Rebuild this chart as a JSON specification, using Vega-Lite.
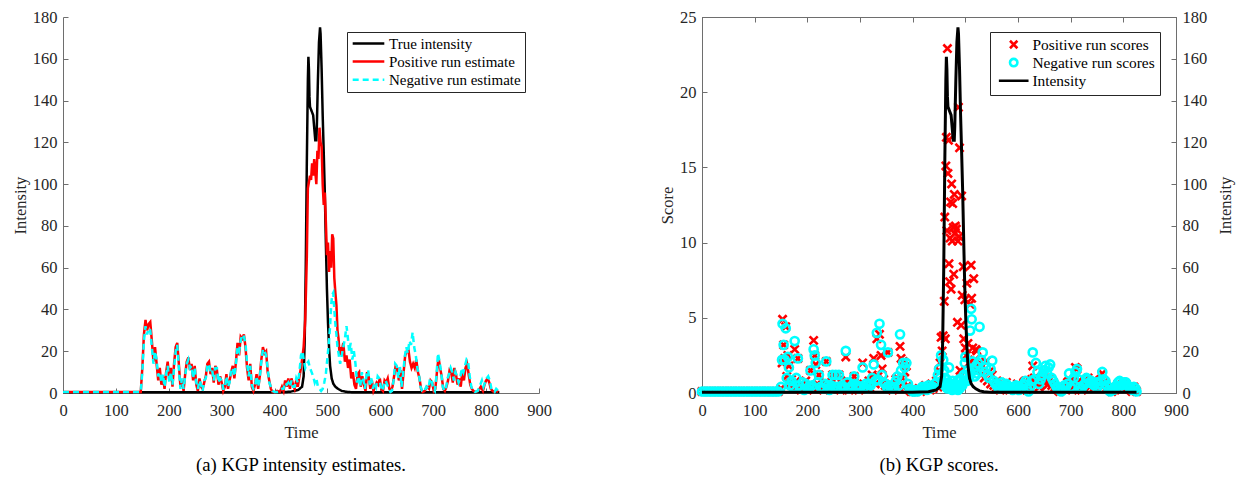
{
"$schema":"https://vega.github.io/schema/vega-lite/v6.json",
"background":"white",
"padding":{"left":12,"top":8,"right":2,"bottom":3},
"spacing":163,
"bounds":"flush",
"resolve":{"scale":{"color":"independent","shape":"independent","strokeDash":"independent"},"legend":{"color":"independent","shape":"independent","strokeDash":"independent"}},
"config":{
"font":"Liberation Serif",
"view":{"stroke":null},
"axis":{"domainColor":"#6e6e6e","tickColor":"#6e6e6e","tickSize":-5,"domainWidth":1,"tickWidth":1,"labelFont":"Liberation Serif","labelFontSize":16.5,"labelColor":"#262626","titleFont":"Liberation Serif","titleFontSize":16.5,"titleFontWeight":"normal","titleColor":"#262626","grid":false,"labelPadding":11,"labelFlush":false,"labelOverlap":false},
"axisX":{"labelPadding":14,"titlePadding":6},
"title":{"orient":"bottom","anchor":"middle","font":"Liberation Serif","fontSize":18.7,"fontWeight":"normal","color":"black","offset":15}
},
"datasets":{
"est":[
{"t":0,"v":0.3,"s":"A"},{"t":150,"v":0.3,"s":"A"},{"t":300,"v":0.3,"s":"A"},{"t":400,"v":0.3,"s":"A"},{"t":430,"v":0.6,"s":"A"},{"t":445,"v":1.5,"s":"A"},{"t":452,"v":3,"s":"A"},{"t":455,"v":8,"s":"A"},{"t":457,"v":25,"s":"A"},{"t":459,"v":60,"s":"A"},{"t":461,"v":110,"s":"A"},{"t":463,"v":150,"s":"A"},{"t":464,"v":161,"s":"A"},{"t":465,"v":155,"s":"A"},{"t":466,"v":142,"s":"A"},{"t":467,"v":137,"s":"A"},{"t":470,"v":135,"s":"A"},{"t":473,"v":133,"s":"A"},{"t":475,"v":127,"s":"A"},{"t":477,"v":121,"s":"A"},{"t":479,"v":121,"s":"A"},{"t":480,"v":128,"s":"A"},{"t":482,"v":150,"s":"A"},{"t":484,"v":168,"s":"A"},{"t":486,"v":175,"s":"A"},{"t":487,"v":172,"s":"A"},{"t":489,"v":155,"s":"A"},{"t":491,"v":133,"s":"A"},{"t":493,"v":115,"s":"A"},{"t":495,"v":96,"s":"A"},{"t":497,"v":72,"s":"A"},{"t":499,"v":50,"s":"A"},{"t":501,"v":34,"s":"A"},{"t":503,"v":22,"s":"A"},{"t":505,"v":13,"s":"A"},{"t":508,"v":7,"s":"A"},{"t":511,"v":4.5,"s":"A"},{"t":515,"v":3,"s":"A"},{"t":520,"v":2,"s":"A"},{"t":527,"v":1,"s":"A"},{"t":535,"v":0.6,"s":"A"},{"t":550,"v":0.3,"s":"A"},{"t":825,"v":0.3,"s":"A"},
{"t":0,"v":0.5,"s":"B"},{"t":145,"v":0.5,"s":"B"},{"t":147,"v":0.5,"s":"B"},{"t":150,"v":12,"s":"B"},{"t":153,"v":28,"s":"B"},{"t":156,"v":35,"s":"B"},{"t":159,"v":30,"s":"B"},{"t":162,"v":33,"s":"B"},{"t":165,"v":34,"s":"B"},{"t":168,"v":25,"s":"B"},{"t":171,"v":15,"s":"B"},{"t":174,"v":22,"s":"B"},{"t":177,"v":14,"s":"B"},{"t":180,"v":6,"s":"B"},{"t":183,"v":12,"s":"B"},{"t":186,"v":4,"s":"B"},{"t":189,"v":8,"s":"B"},{"t":192,"v":2,"s":"B"},{"t":195,"v":10,"s":"B"},{"t":198,"v":15,"s":"B"},{"t":201,"v":6,"s":"B"},{"t":204,"v":12,"s":"B"},{"t":207,"v":3,"s":"B"},{"t":210,"v":14,"s":"B"},{"t":213,"v":22,"s":"B"},{"t":216,"v":24,"s":"B"},{"t":219,"v":14,"s":"B"},{"t":222,"v":3,"s":"B"},{"t":225,"v":6,"s":"B"},{"t":228,"v":1,"s":"B"},{"t":231,"v":9,"s":"B"},{"t":234,"v":15,"s":"B"},{"t":237,"v":17,"s":"B"},{"t":240,"v":11,"s":"B"},{"t":243,"v":14,"s":"B"},{"t":246,"v":6,"s":"B"},{"t":249,"v":13,"s":"B"},{"t":252,"v":4,"s":"B"},{"t":255,"v":1,"s":"B"},{"t":258,"v":7,"s":"B"},{"t":261,"v":3,"s":"B"},{"t":264,"v":2,"s":"B"},{"t":267,"v":5,"s":"B"},{"t":270,"v":8,"s":"B"},{"t":273,"v":14,"s":"B"},{"t":276,"v":15,"s":"B"},{"t":279,"v":9,"s":"B"},{"t":282,"v":12,"s":"B"},{"t":285,"v":5,"s":"B"},{"t":288,"v":13,"s":"B"},{"t":291,"v":11,"s":"B"},{"t":294,"v":4,"s":"B"},{"t":297,"v":8,"s":"B"},{"t":300,"v":5,"s":"B"},{"t":303,"v":1,"s":"B"},{"t":306,"v":3,"s":"B"},{"t":309,"v":9,"s":"B"},{"t":312,"v":2,"s":"B"},{"t":315,"v":6,"s":"B"},{"t":318,"v":10,"s":"B"},{"t":321,"v":13,"s":"B"},{"t":324,"v":7,"s":"B"},{"t":327,"v":15,"s":"B"},{"t":330,"v":24,"s":"B"},{"t":333,"v":18,"s":"B"},{"t":336,"v":27,"s":"B"},{"t":339,"v":26,"s":"B"},{"t":342,"v":28,"s":"B"},{"t":345,"v":22,"s":"B"},{"t":348,"v":12,"s":"B"},{"t":351,"v":6,"s":"B"},{"t":354,"v":14,"s":"B"},{"t":357,"v":3,"s":"B"},{"t":360,"v":1,"s":"B"},{"t":363,"v":4,"s":"B"},{"t":366,"v":9,"s":"B"},{"t":369,"v":2,"s":"B"},{"t":372,"v":8,"s":"B"},{"t":375,"v":16,"s":"B"},{"t":378,"v":22,"s":"B"},{"t":381,"v":19,"s":"B"},{"t":384,"v":20,"s":"B"},{"t":387,"v":10,"s":"B"},{"t":390,"v":6,"s":"B"},{"t":393,"v":2,"s":"B"},{"t":396,"v":0.5,"s":"B"},{"t":400,"v":0.3,"s":"B"},{"t":405,"v":1,"s":"B"},{"t":410,"v":0.5,"s":"B"},{"t":414,"v":3,"s":"B"},{"t":417,"v":1,"s":"B"},{"t":420,"v":6,"s":"B"},{"t":423,"v":3,"s":"B"},{"t":426,"v":7,"s":"B"},{"t":429,"v":2,"s":"B"},{"t":432,"v":7,"s":"B"},{"t":435,"v":4,"s":"B"},{"t":438,"v":2,"s":"B"},{"t":441,"v":6,"s":"B"},{"t":444,"v":3,"s":"B"},{"t":447,"v":8,"s":"B"},{"t":450,"v":12,"s":"B"},{"t":453,"v":18,"s":"B"},{"t":455,"v":22,"s":"B"},{"t":458,"v":35,"s":"B"},{"t":461,"v":65,"s":"B"},{"t":463,"v":98,"s":"B"},{"t":465,"v":101,"s":"B"},{"t":467,"v":104,"s":"B"},{"t":469,"v":102,"s":"B"},{"t":471,"v":110,"s":"B"},{"t":473,"v":104,"s":"B"},{"t":475,"v":112,"s":"B"},{"t":477,"v":106,"s":"B"},{"t":479,"v":100,"s":"B"},{"t":481,"v":116,"s":"B"},{"t":483,"v":112,"s":"B"},{"t":485,"v":127,"s":"B"},{"t":487,"v":120,"s":"B"},{"t":489,"v":118,"s":"B"},{"t":491,"v":100,"s":"B"},{"t":493,"v":90,"s":"B"},{"t":495,"v":96,"s":"B"},{"t":497,"v":82,"s":"B"},{"t":499,"v":66,"s":"B"},{"t":501,"v":72,"s":"B"},{"t":503,"v":58,"s":"B"},{"t":505,"v":68,"s":"B"},{"t":507,"v":60,"s":"B"},{"t":509,"v":76,"s":"B"},{"t":511,"v":74,"s":"B"},{"t":513,"v":55,"s":"B"},{"t":515,"v":48,"s":"B"},{"t":517,"v":42,"s":"B"},{"t":519,"v":30,"s":"B"},{"t":521,"v":26,"s":"B"},{"t":523,"v":18,"s":"B"},{"t":525,"v":22,"s":"B"},{"t":527,"v":20,"s":"B"},{"t":530,"v":24,"s":"B"},{"t":533,"v":15,"s":"B"},{"t":536,"v":18,"s":"B"},{"t":539,"v":12,"s":"B"},{"t":542,"v":16,"s":"B"},{"t":545,"v":7,"s":"B"},{"t":548,"v":10,"s":"B"},{"t":551,"v":4,"s":"B"},{"t":554,"v":2,"s":"B"},{"t":557,"v":9,"s":"B"},{"t":560,"v":10,"s":"B"},{"t":563,"v":3,"s":"B"},{"t":566,"v":8,"s":"B"},{"t":569,"v":4,"s":"B"},{"t":572,"v":1,"s":"B"},{"t":575,"v":10,"s":"B"},{"t":578,"v":8,"s":"B"},{"t":581,"v":2,"s":"B"},{"t":584,"v":6,"s":"B"},{"t":587,"v":1,"s":"B"},{"t":590,"v":3,"s":"B"},{"t":593,"v":5,"s":"B"},{"t":596,"v":4,"s":"B"},{"t":599,"v":7,"s":"B"},{"t":602,"v":2,"s":"B"},{"t":605,"v":1,"s":"B"},{"t":608,"v":6,"s":"B"},{"t":611,"v":5,"s":"B"},{"t":614,"v":7,"s":"B"},{"t":617,"v":2,"s":"B"},{"t":620,"v":1,"s":"B"},{"t":623,"v":3,"s":"B"},{"t":626,"v":8,"s":"B"},{"t":629,"v":13,"s":"B"},{"t":632,"v":12,"s":"B"},{"t":635,"v":6,"s":"B"},{"t":638,"v":11,"s":"B"},{"t":641,"v":2,"s":"B"},{"t":644,"v":10,"s":"B"},{"t":647,"v":18,"s":"B"},{"t":650,"v":20,"s":"B"},{"t":653,"v":21,"s":"B"},{"t":656,"v":15,"s":"B"},{"t":659,"v":12,"s":"B"},{"t":662,"v":14,"s":"B"},{"t":665,"v":12,"s":"B"},{"t":668,"v":16,"s":"B"},{"t":671,"v":10,"s":"B"},{"t":674,"v":7,"s":"B"},{"t":677,"v":2,"s":"B"},{"t":680,"v":0.5,"s":"B"},{"t":684,"v":1,"s":"B"},{"t":688,"v":3,"s":"B"},{"t":692,"v":2,"s":"B"},{"t":695,"v":6,"s":"B"},{"t":698,"v":5,"s":"B"},{"t":701,"v":1,"s":"B"},{"t":704,"v":2,"s":"B"},{"t":707,"v":10,"s":"B"},{"t":710,"v":17,"s":"B"},{"t":713,"v":12,"s":"B"},{"t":716,"v":8,"s":"B"},{"t":719,"v":2,"s":"B"},{"t":722,"v":1,"s":"B"},{"t":725,"v":3,"s":"B"},{"t":728,"v":6,"s":"B"},{"t":731,"v":11,"s":"B"},{"t":734,"v":10,"s":"B"},{"t":737,"v":5,"s":"B"},{"t":740,"v":12,"s":"B"},{"t":743,"v":9,"s":"B"},{"t":746,"v":4,"s":"B"},{"t":749,"v":7,"s":"B"},{"t":752,"v":3,"s":"B"},{"t":755,"v":10,"s":"B"},{"t":758,"v":6,"s":"B"},{"t":761,"v":12,"s":"B"},{"t":764,"v":14,"s":"B"},{"t":767,"v":9,"s":"B"},{"t":770,"v":4,"s":"B"},{"t":773,"v":2,"s":"B"},{"t":776,"v":1,"s":"B"},{"t":780,"v":0.5,"s":"B"},{"t":785,"v":1,"s":"B"},{"t":790,"v":3,"s":"B"},{"t":794,"v":1,"s":"B"},{"t":797,"v":4,"s":"B"},{"t":800,"v":6,"s":"B"},{"t":803,"v":7,"s":"B"},{"t":806,"v":5,"s":"B"},{"t":809,"v":2,"s":"B"},{"t":812,"v":1,"s":"B"},{"t":815,"v":0.5,"s":"B"},{"t":819,"v":1,"s":"B"},{"t":823,"v":0.5,"s":"B"},
{"t":0,"v":0.5,"s":"C"},{"t":145,"v":0.5,"s":"C"},{"t":147,"v":0.5,"s":"C"},{"t":150,"v":10,"s":"C"},{"t":153,"v":25,"s":"C"},{"t":156,"v":32,"s":"C"},{"t":159,"v":28,"s":"C"},{"t":162,"v":31,"s":"C"},{"t":165,"v":30,"s":"C"},{"t":168,"v":22,"s":"C"},{"t":171,"v":14,"s":"C"},{"t":174,"v":20,"s":"C"},{"t":177,"v":16,"s":"C"},{"t":180,"v":8,"s":"C"},{"t":183,"v":10,"s":"C"},{"t":186,"v":5,"s":"C"},{"t":189,"v":9,"s":"C"},{"t":192,"v":3,"s":"C"},{"t":195,"v":9,"s":"C"},{"t":198,"v":13,"s":"C"},{"t":201,"v":5,"s":"C"},{"t":204,"v":10,"s":"C"},{"t":207,"v":4,"s":"C"},{"t":210,"v":12,"s":"C"},{"t":213,"v":20,"s":"C"},{"t":216,"v":23,"s":"C"},{"t":219,"v":12,"s":"C"},{"t":222,"v":2,"s":"C"},{"t":225,"v":7,"s":"C"},{"t":228,"v":2,"s":"C"},{"t":231,"v":8,"s":"C"},{"t":234,"v":14,"s":"C"},{"t":237,"v":16,"s":"C"},{"t":240,"v":12,"s":"C"},{"t":243,"v":13,"s":"C"},{"t":246,"v":7,"s":"C"},{"t":249,"v":12,"s":"C"},{"t":252,"v":5,"s":"C"},{"t":255,"v":2,"s":"C"},{"t":258,"v":6,"s":"C"},{"t":261,"v":4,"s":"C"},{"t":264,"v":1,"s":"C"},{"t":267,"v":6,"s":"C"},{"t":270,"v":7,"s":"C"},{"t":273,"v":13,"s":"C"},{"t":276,"v":14,"s":"C"},{"t":279,"v":10,"s":"C"},{"t":282,"v":11,"s":"C"},{"t":285,"v":6,"s":"C"},{"t":288,"v":12,"s":"C"},{"t":291,"v":12,"s":"C"},{"t":294,"v":5,"s":"C"},{"t":297,"v":7,"s":"C"},{"t":300,"v":6,"s":"C"},{"t":303,"v":2,"s":"C"},{"t":306,"v":2,"s":"C"},{"t":309,"v":8,"s":"C"},{"t":312,"v":3,"s":"C"},{"t":315,"v":5,"s":"C"},{"t":318,"v":11,"s":"C"},{"t":321,"v":12,"s":"C"},{"t":324,"v":8,"s":"C"},{"t":327,"v":14,"s":"C"},{"t":330,"v":22,"s":"C"},{"t":333,"v":20,"s":"C"},{"t":336,"v":25,"s":"C"},{"t":339,"v":28,"s":"C"},{"t":342,"v":27,"s":"C"},{"t":345,"v":24,"s":"C"},{"t":348,"v":14,"s":"C"},{"t":351,"v":8,"s":"C"},{"t":354,"v":13,"s":"C"},{"t":357,"v":4,"s":"C"},{"t":360,"v":2,"s":"C"},{"t":363,"v":3,"s":"C"},{"t":366,"v":8,"s":"C"},{"t":369,"v":3,"s":"C"},{"t":372,"v":7,"s":"C"},{"t":375,"v":15,"s":"C"},{"t":378,"v":21,"s":"C"},{"t":381,"v":20,"s":"C"},{"t":384,"v":18,"s":"C"},{"t":387,"v":12,"s":"C"},{"t":390,"v":5,"s":"C"},{"t":393,"v":3,"s":"C"},{"t":396,"v":1,"s":"C"},{"t":400,"v":0.5,"s":"C"},{"t":405,"v":0.5,"s":"C"},{"t":410,"v":1,"s":"C"},{"t":414,"v":2,"s":"C"},{"t":417,"v":2,"s":"C"},{"t":420,"v":5,"s":"C"},{"t":423,"v":4,"s":"C"},{"t":426,"v":5,"s":"C"},{"t":429,"v":3,"s":"C"},{"t":432,"v":6,"s":"C"},{"t":435,"v":3,"s":"C"},{"t":438,"v":3,"s":"C"},{"t":441,"v":7,"s":"C"},{"t":444,"v":5,"s":"C"},{"t":447,"v":10,"s":"C"},{"t":450,"v":18,"s":"C"},{"t":453,"v":20,"s":"C"},{"t":455,"v":16,"s":"C"},{"t":458,"v":12,"s":"C"},{"t":461,"v":14,"s":"C"},{"t":464,"v":15,"s":"C"},{"t":467,"v":12,"s":"C"},{"t":470,"v":10,"s":"C"},{"t":473,"v":8,"s":"C"},{"t":476,"v":5,"s":"C"},{"t":479,"v":7,"s":"C"},{"t":482,"v":3,"s":"C"},{"t":485,"v":2,"s":"C"},{"t":488,"v":1,"s":"C"},{"t":491,"v":2,"s":"C"},{"t":494,"v":5,"s":"C"},{"t":497,"v":9,"s":"C"},{"t":500,"v":17,"s":"C"},{"t":503,"v":25,"s":"C"},{"t":505,"v":32,"s":"C"},{"t":507,"v":42,"s":"C"},{"t":509,"v":47,"s":"C"},{"t":511,"v":48,"s":"C"},{"t":513,"v":40,"s":"C"},{"t":515,"v":33,"s":"C"},{"t":517,"v":28,"s":"C"},{"t":519,"v":22,"s":"C"},{"t":521,"v":19,"s":"C"},{"t":524,"v":14,"s":"C"},{"t":527,"v":18,"s":"C"},{"t":530,"v":22,"s":"C"},{"t":533,"v":26,"s":"C"},{"t":536,"v":32,"s":"C"},{"t":538,"v":28,"s":"C"},{"t":541,"v":20,"s":"C"},{"t":544,"v":24,"s":"C"},{"t":547,"v":16,"s":"C"},{"t":550,"v":20,"s":"C"},{"t":553,"v":14,"s":"C"},{"t":556,"v":5,"s":"C"},{"t":559,"v":8,"s":"C"},{"t":562,"v":3,"s":"C"},{"t":565,"v":10,"s":"C"},{"t":568,"v":6,"s":"C"},{"t":571,"v":2,"s":"C"},{"t":574,"v":9,"s":"C"},{"t":577,"v":11,"s":"C"},{"t":580,"v":4,"s":"C"},{"t":583,"v":7,"s":"C"},{"t":586,"v":2,"s":"C"},{"t":589,"v":5,"s":"C"},{"t":592,"v":3,"s":"C"},{"t":595,"v":8,"s":"C"},{"t":598,"v":7,"s":"C"},{"t":601,"v":3,"s":"C"},{"t":604,"v":1,"s":"C"},{"t":607,"v":4,"s":"C"},{"t":610,"v":6,"s":"C"},{"t":613,"v":4,"s":"C"},{"t":616,"v":2,"s":"C"},{"t":619,"v":0.5,"s":"C"},{"t":622,"v":1,"s":"C"},{"t":625,"v":6,"s":"C"},{"t":628,"v":14,"s":"C"},{"t":631,"v":13,"s":"C"},{"t":634,"v":7,"s":"C"},{"t":637,"v":13,"s":"C"},{"t":640,"v":3,"s":"C"},{"t":643,"v":9,"s":"C"},{"t":646,"v":17,"s":"C"},{"t":649,"v":22,"s":"C"},{"t":652,"v":19,"s":"C"},{"t":655,"v":25,"s":"C"},{"t":658,"v":23,"s":"C"},{"t":661,"v":29,"s":"C"},{"t":664,"v":22,"s":"C"},{"t":667,"v":18,"s":"C"},{"t":670,"v":12,"s":"C"},{"t":673,"v":9,"s":"C"},{"t":676,"v":3,"s":"C"},{"t":679,"v":1,"s":"C"},{"t":683,"v":0.5,"s":"C"},{"t":687,"v":3,"s":"C"},{"t":691,"v":2,"s":"C"},{"t":694,"v":7,"s":"C"},{"t":697,"v":6,"s":"C"},{"t":700,"v":2,"s":"C"},{"t":703,"v":1,"s":"C"},{"t":706,"v":8,"s":"C"},{"t":709,"v":19,"s":"C"},{"t":712,"v":15,"s":"C"},{"t":715,"v":10,"s":"C"},{"t":718,"v":3,"s":"C"},{"t":721,"v":1,"s":"C"},{"t":724,"v":2,"s":"C"},{"t":727,"v":7,"s":"C"},{"t":730,"v":9,"s":"C"},{"t":733,"v":12,"s":"C"},{"t":736,"v":10,"s":"C"},{"t":739,"v":6,"s":"C"},{"t":742,"v":10,"s":"C"},{"t":745,"v":8,"s":"C"},{"t":748,"v":5,"s":"C"},{"t":751,"v":7,"s":"C"},{"t":754,"v":12,"s":"C"},{"t":757,"v":10,"s":"C"},{"t":760,"v":13,"s":"C"},{"t":763,"v":16,"s":"C"},{"t":766,"v":15,"s":"C"},{"t":769,"v":8,"s":"C"},{"t":772,"v":3,"s":"C"},{"t":775,"v":1,"s":"C"},{"t":779,"v":0.5,"s":"C"},{"t":784,"v":1,"s":"C"},{"t":789,"v":4,"s":"C"},{"t":792,"v":6,"s":"C"},{"t":795,"v":3,"s":"C"},{"t":798,"v":5,"s":"C"},{"t":801,"v":7,"s":"C"},{"t":804,"v":8,"s":"C"},{"t":807,"v":6,"s":"C"},{"t":810,"v":2,"s":"C"},{"t":813,"v":1,"s":"C"},{"t":816,"v":0.5,"s":"C"},{"t":819,"v":2,"s":"C"},{"t":823,"v":1,"s":"C"}
],
"scores":[
{"t":0,"v":0.1,"s":"A"},{"t":5,"v":0.1,"s":"A"},{"t":10,"v":0.1,"s":"A"},{"t":15,"v":0.1,"s":"A"},{"t":20,"v":0.1,"s":"A"},{"t":25,"v":0.1,"s":"A"},{"t":30,"v":0.1,"s":"A"},{"t":35,"v":0.1,"s":"A"},{"t":40,"v":0.1,"s":"A"},{"t":45,"v":0.1,"s":"A"},{"t":50,"v":0.1,"s":"A"},{"t":55,"v":0.1,"s":"A"},{"t":60,"v":0.1,"s":"A"},{"t":65,"v":0.1,"s":"A"},{"t":70,"v":0.1,"s":"A"},{"t":75,"v":0.1,"s":"A"},{"t":80,"v":0.1,"s":"A"},{"t":85,"v":0.1,"s":"A"},{"t":90,"v":0.1,"s":"A"},{"t":95,"v":0.1,"s":"A"},{"t":100,"v":0.1,"s":"A"},{"t":105,"v":0.1,"s":"A"},{"t":110,"v":0.1,"s":"A"},{"t":115,"v":0.1,"s":"A"},{"t":120,"v":0.1,"s":"A"},{"t":125,"v":0.1,"s":"A"},{"t":130,"v":0.1,"s":"A"},{"t":135,"v":0.1,"s":"A"},{"t":140,"v":0.1,"s":"A"},{"t":145,"v":0.1,"s":"A"},
{"t":150,"v":0.3,"s":"A"},{"t":152,"v":2.0,"s":"A"},{"t":153,"v":4.9,"s":"A"},{"t":155,"v":3.2,"s":"A"},{"t":157,"v":2.3,"s":"A"},{"t":159,"v":4.4,"s":"A"},{"t":161,"v":1.1,"s":"A"},{"t":163,"v":2.5,"s":"A"},{"t":165,"v":1.8,"s":"A"},{"t":167,"v":0.6,"s":"A"},{"t":170,"v":0.9,"s":"A"},{"t":173,"v":0.3,"s":"A"},{"t":176,"v":2.9,"s":"A"},{"t":179,"v":0.8,"s":"A"},{"t":182,"v":2.3,"s":"A"},{"t":185,"v":0.4,"s":"A"},{"t":188,"v":0.2,"s":"A"},{"t":191,"v":0.6,"s":"A"},{"t":194,"v":0.3,"s":"A"},{"t":197,"v":0.8,"s":"A"},{"t":200,"v":0.2,"s":"A"},{"t":203,"v":0.5,"s":"A"},{"t":206,"v":1.5,"s":"A"},{"t":209,"v":0.4,"s":"A"},{"t":212,"v":3.5,"s":"A"},{"t":214,"v":2.5,"s":"A"},{"t":216,"v":1.9,"s":"A"},{"t":219,"v":0.6,"s":"A"},{"t":222,"v":1.2,"s":"A"},{"t":225,"v":0.3,"s":"A"},{"t":228,"v":0.5,"s":"A"},{"t":231,"v":0.2,"s":"A"},{"t":234,"v":0.7,"s":"A"},{"t":236,"v":2.1,"s":"A"},{"t":239,"v":0.4,"s":"A"},{"t":242,"v":0.3,"s":"A"},{"t":245,"v":0.6,"s":"A"},{"t":248,"v":1.2,"s":"A"},{"t":251,"v":0.3,"s":"A"},{"t":254,"v":1.1,"s":"A"},{"t":257,"v":0.5,"s":"A"},{"t":260,"v":1.2,"s":"A"},{"t":263,"v":0.2,"s":"A"},{"t":266,"v":0.6,"s":"A"},{"t":269,"v":0.3,"s":"A"},{"t":273,"v":2.4,"s":"A"},{"t":276,"v":0.8,"s":"A"},{"t":279,"v":0.2,"s":"A"},{"t":282,"v":0.5,"s":"A"},{"t":285,"v":0.4,"s":"A"},{"t":289,"v":1.1,"s":"A"},{"t":292,"v":0.3,"s":"A"},{"t":295,"v":0.6,"s":"A"},{"t":298,"v":0.2,"s":"A"},{"t":301,"v":0.4,"s":"A"},{"t":305,"v":2.0,"s":"A"},{"t":308,"v":0.3,"s":"A"},{"t":311,"v":0.5,"s":"A"},{"t":314,"v":0.4,"s":"A"},{"t":317,"v":0.8,"s":"A"},{"t":320,"v":0.3,"s":"A"},{"t":323,"v":1.2,"s":"A"},{"t":326,"v":2.3,"s":"A"},{"t":329,"v":0.6,"s":"A"},{"t":332,"v":3.6,"s":"A"},{"t":334,"v":1.1,"s":"A"},{"t":337,"v":3.9,"s":"A"},{"t":340,"v":2.5,"s":"A"},{"t":342,"v":1.6,"s":"A"},{"t":345,"v":0.9,"s":"A"},{"t":348,"v":0.5,"s":"A"},{"t":351,"v":0.3,"s":"A"},{"t":353,"v":2.7,"s":"A"},{"t":356,"v":0.4,"s":"A"},{"t":359,"v":0.6,"s":"A"},{"t":362,"v":0.2,"s":"A"},{"t":365,"v":0.5,"s":"A"},{"t":368,"v":0.9,"s":"A"},{"t":371,"v":1.0,"s":"A"},{"t":374,"v":0.4,"s":"A"},{"t":376,"v":3.1,"s":"A"},{"t":378,"v":2.3,"s":"A"},{"t":380,"v":1.0,"s":"A"},{"t":382,"v":2.1,"s":"A"},{"t":385,"v":1.4,"s":"A"},{"t":388,"v":1.8,"s":"A"},{"t":391,"v":0.5,"s":"A"},{"t":394,"v":0.2,"s":"A"},{"t":397,"v":0.1,"s":"A"},{"t":400,"v":0.1,"s":"A"},{"t":403,"v":0.2,"s":"A"},{"t":406,"v":0.1,"s":"A"},{"t":409,"v":0.2,"s":"A"},{"t":412,"v":0.3,"s":"A"},{"t":415,"v":0.1,"s":"A"},{"t":418,"v":0.3,"s":"A"},{"t":421,"v":0.2,"s":"A"},{"t":424,"v":0.5,"s":"A"},{"t":427,"v":0.3,"s":"A"},{"t":430,"v":0.4,"s":"A"},{"t":433,"v":0.2,"s":"A"},{"t":436,"v":0.6,"s":"A"},{"t":439,"v":0.3,"s":"A"},{"t":442,"v":0.5,"s":"A"},{"t":445,"v":0.8,"s":"A"},{"t":448,"v":0.4,"s":"A"},{"t":450,"v":1.5,"s":"A"},{"t":452,"v":2.0,"s":"A"},{"t":454,"v":3.7,"s":"A"},{"t":456,"v":2.8,"s":"A"},{"t":458,"v":3.8,"s":"A"},{"t":460,"v":6.1,"s":"A"},{"t":461,"v":11.7,"s":"A"},{"t":462,"v":3.6,"s":"A"},{"t":463,"v":15.1,"s":"A"},{"t":464,"v":17.0,"s":"A"},{"t":465,"v":10.8,"s":"A"},{"t":466,"v":22.9,"s":"A"},{"t":467,"v":14.6,"s":"A"},{"t":468,"v":16.8,"s":"A"},{"t":469,"v":8.6,"s":"A"},{"t":470,"v":7.4,"s":"A"},{"t":471,"v":10.3,"s":"A"},{"t":472,"v":12.7,"s":"A"},{"t":473,"v":6.9,"s":"A"},{"t":474,"v":13.9,"s":"A"},{"t":475,"v":10.1,"s":"A"},{"t":476,"v":12.6,"s":"A"},{"t":477,"v":11.0,"s":"A"},{"t":478,"v":7.9,"s":"A"},{"t":479,"v":13.2,"s":"A"},{"t":480,"v":10.6,"s":"A"},{"t":481,"v":11.1,"s":"A"},{"t":483,"v":10.9,"s":"A"},{"t":485,"v":4.7,"s":"A"},{"t":486,"v":10.1,"s":"A"},{"t":487,"v":19.0,"s":"A"},{"t":488,"v":10.4,"s":"A"},{"t":489,"v":16.3,"s":"A"},{"t":490,"v":1.5,"s":"A"},{"t":492,"v":4.5,"s":"A"},{"t":493,"v":13.1,"s":"A"},{"t":494,"v":6.5,"s":"A"},{"t":496,"v":8.4,"s":"A"},{"t":497,"v":3.6,"s":"A"},{"t":499,"v":6.2,"s":"A"},{"t":500,"v":3.0,"s":"A"},{"t":502,"v":2.5,"s":"A"},{"t":503,"v":7.3,"s":"A"},{"t":505,"v":3.3,"s":"A"},{"t":507,"v":2.0,"s":"A"},{"t":509,"v":5.9,"s":"A"},{"t":511,"v":8.5,"s":"A"},{"t":512,"v":6.3,"s":"A"},{"t":514,"v":3.0,"s":"A"},{"t":516,"v":7.6,"s":"A"},{"t":518,"v":2.2,"s":"A"},{"t":520,"v":2.9,"s":"A"},{"t":522,"v":2.8,"s":"A"},{"t":524,"v":1.5,"s":"A"},{"t":527,"v":2.0,"s":"A"},{"t":530,"v":1.2,"s":"A"},{"t":533,"v":1.8,"s":"A"},{"t":536,"v":1.0,"s":"A"},{"t":539,"v":2.1,"s":"A"},{"t":542,"v":0.8,"s":"A"},{"t":545,"v":1.4,"s":"A"},{"t":548,"v":0.6,"s":"A"},{"t":551,"v":1.2,"s":"A"},{"t":554,"v":0.5,"s":"A"},{"t":557,"v":0.3,"s":"A"},{"t":560,"v":0.8,"s":"A"},{"t":563,"v":0.4,"s":"A"},{"t":566,"v":0.2,"s":"A"},{"t":569,"v":0.5,"s":"A"},{"t":572,"v":0.6,"s":"A"},{"t":575,"v":0.3,"s":"A"},{"t":578,"v":0.7,"s":"A"},{"t":581,"v":0.4,"s":"A"},{"t":584,"v":0.2,"s":"A"},{"t":587,"v":0.5,"s":"A"},{"t":590,"v":0.3,"s":"A"},{"t":593,"v":0.2,"s":"A"},{"t":596,"v":0.4,"s":"A"},{"t":599,"v":0.6,"s":"A"},{"t":602,"v":0.3,"s":"A"},{"t":605,"v":0.2,"s":"A"},{"t":608,"v":0.4,"s":"A"},{"t":611,"v":0.7,"s":"A"},{"t":614,"v":0.8,"s":"A"},{"t":617,"v":0.2,"s":"A"},{"t":620,"v":0.3,"s":"A"},{"t":623,"v":0.5,"s":"A"},{"t":626,"v":0.9,"s":"A"},{"t":628,"v":1.8,"s":"A"},{"t":631,"v":1.0,"s":"A"},{"t":634,"v":0.6,"s":"A"},{"t":637,"v":0.9,"s":"A"},{"t":640,"v":0.4,"s":"A"},{"t":643,"v":0.5,"s":"A"},{"t":646,"v":0.8,"s":"A"},{"t":649,"v":1.1,"s":"A"},{"t":652,"v":0.7,"s":"A"},{"t":655,"v":1.0,"s":"A"},{"t":658,"v":0.6,"s":"A"},{"t":661,"v":0.9,"s":"A"},{"t":664,"v":0.5,"s":"A"},{"t":667,"v":0.7,"s":"A"},{"t":670,"v":0.4,"s":"A"},{"t":673,"v":0.3,"s":"A"},{"t":676,"v":0.2,"s":"A"},{"t":679,"v":0.1,"s":"A"},{"t":682,"v":0.2,"s":"A"},{"t":685,"v":0.3,"s":"A"},{"t":688,"v":0.4,"s":"A"},{"t":691,"v":0.3,"s":"A"},{"t":694,"v":0.7,"s":"A"},{"t":697,"v":0.8,"s":"A"},{"t":700,"v":0.3,"s":"A"},{"t":703,"v":0.2,"s":"A"},{"t":706,"v":0.9,"s":"A"},{"t":709,"v":1.7,"s":"A"},{"t":712,"v":1.6,"s":"A"},{"t":715,"v":0.8,"s":"A"},{"t":718,"v":0.3,"s":"A"},{"t":721,"v":0.2,"s":"A"},{"t":724,"v":0.4,"s":"A"},{"t":727,"v":0.7,"s":"A"},{"t":730,"v":0.8,"s":"A"},{"t":733,"v":1.0,"s":"A"},{"t":736,"v":0.6,"s":"A"},{"t":739,"v":0.5,"s":"A"},{"t":742,"v":0.7,"s":"A"},{"t":745,"v":0.4,"s":"A"},{"t":748,"v":0.6,"s":"A"},{"t":751,"v":0.5,"s":"A"},{"t":754,"v":0.8,"s":"A"},{"t":757,"v":0.9,"s":"A"},{"t":760,"v":1.3,"s":"A"},{"t":763,"v":0.7,"s":"A"},{"t":766,"v":0.6,"s":"A"},{"t":769,"v":0.4,"s":"A"},{"t":772,"v":0.3,"s":"A"},{"t":775,"v":0.2,"s":"A"},{"t":778,"v":0.1,"s":"A"},{"t":781,"v":0.3,"s":"A"},{"t":784,"v":0.2,"s":"A"},{"t":787,"v":0.4,"s":"A"},{"t":790,"v":0.6,"s":"A"},{"t":793,"v":0.5,"s":"A"},{"t":796,"v":0.4,"s":"A"},{"t":799,"v":0.6,"s":"A"},{"t":802,"v":0.5,"s":"A"},{"t":805,"v":0.6,"s":"A"},{"t":808,"v":0.4,"s":"A"},{"t":811,"v":0.3,"s":"A"},{"t":814,"v":0.2,"s":"A"},{"t":817,"v":0.1,"s":"A"},{"t":820,"v":0.4,"s":"A"},{"t":823,"v":0.2,"s":"A"},{"t":825,"v":0.1,"s":"A"},
{"t":0,"v":0.1,"s":"B"},{"t":5,"v":0.1,"s":"B"},{"t":10,"v":0.1,"s":"B"},{"t":15,"v":0.1,"s":"B"},{"t":20,"v":0.1,"s":"B"},{"t":25,"v":0.1,"s":"B"},{"t":30,"v":0.1,"s":"B"},{"t":35,"v":0.1,"s":"B"},{"t":40,"v":0.1,"s":"B"},{"t":45,"v":0.1,"s":"B"},{"t":50,"v":0.1,"s":"B"},{"t":55,"v":0.1,"s":"B"},{"t":60,"v":0.1,"s":"B"},{"t":65,"v":0.1,"s":"B"},{"t":70,"v":0.1,"s":"B"},{"t":75,"v":0.1,"s":"B"},{"t":80,"v":0.1,"s":"B"},{"t":85,"v":0.1,"s":"B"},{"t":90,"v":0.1,"s":"B"},{"t":95,"v":0.1,"s":"B"},{"t":100,"v":0.1,"s":"B"},{"t":105,"v":0.1,"s":"B"},{"t":110,"v":0.1,"s":"B"},{"t":115,"v":0.1,"s":"B"},{"t":120,"v":0.1,"s":"B"},{"t":125,"v":0.1,"s":"B"},{"t":130,"v":0.1,"s":"B"},{"t":135,"v":0.1,"s":"B"},{"t":140,"v":0.1,"s":"B"},{"t":145,"v":0.1,"s":"B"},
{"t":150,"v":0.4,"s":"B"},{"t":152,"v":2.2,"s":"B"},{"t":153,"v":4.6,"s":"B"},{"t":155,"v":3.2,"s":"B"},{"t":157,"v":2.2,"s":"B"},{"t":159,"v":4.3,"s":"B"},{"t":161,"v":1.0,"s":"B"},{"t":163,"v":2.4,"s":"B"},{"t":165,"v":1.7,"s":"B"},{"t":167,"v":0.5,"s":"B"},{"t":170,"v":0.8,"s":"B"},{"t":173,"v":0.4,"s":"B"},{"t":176,"v":3.45,"s":"B"},{"t":179,"v":1.0,"s":"B"},{"t":182,"v":2.3,"s":"B"},{"t":185,"v":0.5,"s":"B"},{"t":188,"v":0.3,"s":"B"},{"t":191,"v":0.7,"s":"B"},{"t":194,"v":0.2,"s":"B"},{"t":197,"v":0.6,"s":"B"},{"t":200,"v":0.3,"s":"B"},{"t":203,"v":0.4,"s":"B"},{"t":206,"v":1.5,"s":"B"},{"t":209,"v":0.5,"s":"B"},{"t":212,"v":2.9,"s":"B"},{"t":214,"v":2.5,"s":"B"},{"t":216,"v":2.0,"s":"B"},{"t":219,"v":0.7,"s":"B"},{"t":222,"v":1.2,"s":"B"},{"t":225,"v":0.4,"s":"B"},{"t":228,"v":0.3,"s":"B"},{"t":231,"v":0.3,"s":"B"},{"t":234,"v":0.6,"s":"B"},{"t":236,"v":2.1,"s":"B"},{"t":239,"v":0.5,"s":"B"},{"t":242,"v":0.2,"s":"B"},{"t":245,"v":0.5,"s":"B"},{"t":248,"v":1.2,"s":"B"},{"t":251,"v":0.4,"s":"B"},{"t":254,"v":1.2,"s":"B"},{"t":257,"v":0.4,"s":"B"},{"t":260,"v":1.2,"s":"B"},{"t":263,"v":0.3,"s":"B"},{"t":266,"v":0.5,"s":"B"},{"t":269,"v":0.4,"s":"B"},{"t":273,"v":2.8,"s":"B"},{"t":276,"v":0.7,"s":"B"},{"t":279,"v":0.3,"s":"B"},{"t":282,"v":0.4,"s":"B"},{"t":285,"v":0.5,"s":"B"},{"t":289,"v":1.1,"s":"B"},{"t":292,"v":0.4,"s":"B"},{"t":295,"v":0.5,"s":"B"},{"t":298,"v":0.3,"s":"B"},{"t":301,"v":0.4,"s":"B"},{"t":305,"v":1.7,"s":"B"},{"t":308,"v":0.4,"s":"B"},{"t":311,"v":0.6,"s":"B"},{"t":314,"v":0.3,"s":"B"},{"t":317,"v":0.6,"s":"B"},{"t":320,"v":0.5,"s":"B"},{"t":323,"v":1.0,"s":"B"},{"t":326,"v":1.9,"s":"B"},{"t":329,"v":0.8,"s":"B"},{"t":332,"v":4.0,"s":"B"},{"t":334,"v":0.9,"s":"B"},{"t":337,"v":4.6,"s":"B"},{"t":340,"v":3.2,"s":"B"},{"t":342,"v":1.2,"s":"B"},{"t":345,"v":0.7,"s":"B"},{"t":348,"v":0.6,"s":"B"},{"t":351,"v":0.4,"s":"B"},{"t":353,"v":2.7,"s":"B"},{"t":356,"v":0.5,"s":"B"},{"t":359,"v":0.3,"s":"B"},{"t":362,"v":0.3,"s":"B"},{"t":365,"v":0.4,"s":"B"},{"t":368,"v":0.8,"s":"B"},{"t":371,"v":1.1,"s":"B"},{"t":374,"v":0.5,"s":"B"},{"t":376,"v":3.9,"s":"B"},{"t":378,"v":1.5,"s":"B"},{"t":380,"v":1.0,"s":"B"},{"t":382,"v":2.0,"s":"B"},{"t":385,"v":1.7,"s":"B"},{"t":388,"v":2.0,"s":"B"},{"t":391,"v":0.6,"s":"B"},{"t":394,"v":0.3,"s":"B"},{"t":397,"v":0.2,"s":"B"},{"t":400,"v":0.1,"s":"B"},{"t":403,"v":0.1,"s":"B"},{"t":406,"v":0.2,"s":"B"},{"t":409,"v":0.1,"s":"B"},{"t":412,"v":0.2,"s":"B"},{"t":415,"v":0.2,"s":"B"},{"t":418,"v":0.4,"s":"B"},{"t":421,"v":0.3,"s":"B"},{"t":424,"v":0.4,"s":"B"},{"t":427,"v":0.2,"s":"B"},{"t":430,"v":0.5,"s":"B"},{"t":433,"v":0.3,"s":"B"},{"t":436,"v":0.4,"s":"B"},{"t":439,"v":0.4,"s":"B"},{"t":442,"v":0.6,"s":"B"},{"t":445,"v":0.7,"s":"B"},{"t":448,"v":1.2,"s":"B"},{"t":450,"v":1.6,"s":"B"},{"t":452,"v":1.0,"s":"B"},{"t":454,"v":2.5,"s":"B"},{"t":456,"v":0.8,"s":"B"},{"t":458,"v":2.2,"s":"B"},{"t":460,"v":1.5,"s":"B"},{"t":461,"v":0.5,"s":"B"},{"t":462,"v":1.0,"s":"B"},{"t":463,"v":0.6,"s":"B"},{"t":464,"v":0.4,"s":"B"},{"t":465,"v":0.9,"s":"B"},{"t":466,"v":0.3,"s":"B"},{"t":467,"v":0.5,"s":"B"},{"t":468,"v":0.7,"s":"B"},{"t":469,"v":1.7,"s":"B"},{"t":470,"v":0.4,"s":"B"},{"t":471,"v":0.6,"s":"B"},{"t":472,"v":0.5,"s":"B"},{"t":473,"v":0.3,"s":"B"},{"t":474,"v":0.4,"s":"B"},{"t":475,"v":0.2,"s":"B"},{"t":476,"v":0.8,"s":"B"},{"t":477,"v":0.3,"s":"B"},{"t":478,"v":0.5,"s":"B"},{"t":479,"v":0.4,"s":"B"},{"t":480,"v":0.3,"s":"B"},{"t":481,"v":0.6,"s":"B"},{"t":483,"v":0.4,"s":"B"},{"t":485,"v":0.8,"s":"B"},{"t":486,"v":0.2,"s":"B"},{"t":487,"v":0.5,"s":"B"},{"t":488,"v":0.9,"s":"B"},{"t":489,"v":0.3,"s":"B"},{"t":490,"v":0.4,"s":"B"},{"t":492,"v":0.9,"s":"B"},{"t":493,"v":0.6,"s":"B"},{"t":494,"v":0.5,"s":"B"},{"t":496,"v":0.7,"s":"B"},{"t":497,"v":1.2,"s":"B"},{"t":499,"v":2.0,"s":"B"},{"t":500,"v":2.4,"s":"B"},{"t":502,"v":1.2,"s":"B"},{"t":503,"v":0.8,"s":"B"},{"t":505,"v":1.5,"s":"B"},{"t":507,"v":1.0,"s":"B"},{"t":509,"v":4.15,"s":"B"},{"t":511,"v":5.6,"s":"B"},{"t":512,"v":4.9,"s":"B"},{"t":514,"v":2.1,"s":"B"},{"t":516,"v":1.5,"s":"B"},{"t":518,"v":1.1,"s":"B"},{"t":520,"v":1.8,"s":"B"},{"t":522,"v":1.3,"s":"B"},{"t":524,"v":2.0,"s":"B"},{"t":527,"v":4.4,"s":"B"},{"t":530,"v":2.2,"s":"B"},{"t":533,"v":2.7,"s":"B"},{"t":536,"v":1.4,"s":"B"},{"t":539,"v":1.7,"s":"B"},{"t":542,"v":1.2,"s":"B"},{"t":545,"v":1.0,"s":"B"},{"t":548,"v":1.6,"s":"B"},{"t":551,"v":2.15,"s":"B"},{"t":554,"v":0.8,"s":"B"},{"t":557,"v":0.6,"s":"B"},{"t":560,"v":0.5,"s":"B"},{"t":563,"v":0.3,"s":"B"},{"t":566,"v":0.5,"s":"B"},{"t":569,"v":0.7,"s":"B"},{"t":572,"v":0.4,"s":"B"},{"t":575,"v":0.5,"s":"B"},{"t":578,"v":0.6,"s":"B"},{"t":581,"v":0.3,"s":"B"},{"t":584,"v":0.4,"s":"B"},{"t":587,"v":0.3,"s":"B"},{"t":590,"v":0.2,"s":"B"},{"t":593,"v":0.3,"s":"B"},{"t":596,"v":0.5,"s":"B"},{"t":599,"v":0.4,"s":"B"},{"t":602,"v":0.2,"s":"B"},{"t":605,"v":0.3,"s":"B"},{"t":608,"v":0.5,"s":"B"},{"t":611,"v":0.6,"s":"B"},{"t":614,"v":0.8,"s":"B"},{"t":617,"v":0.3,"s":"B"},{"t":620,"v":0.1,"s":"B"},{"t":623,"v":0.4,"s":"B"},{"t":626,"v":0.8,"s":"B"},{"t":628,"v":2.7,"s":"B"},{"t":631,"v":0.9,"s":"B"},{"t":634,"v":2.0,"s":"B"},{"t":637,"v":1.4,"s":"B"},{"t":640,"v":0.6,"s":"B"},{"t":643,"v":0.9,"s":"B"},{"t":646,"v":1.2,"s":"B"},{"t":649,"v":1.5,"s":"B"},{"t":652,"v":1.8,"s":"B"},{"t":655,"v":1.3,"s":"B"},{"t":658,"v":1.7,"s":"B"},{"t":661,"v":1.9,"s":"B"},{"t":664,"v":1.0,"s":"B"},{"t":667,"v":0.8,"s":"B"},{"t":670,"v":0.6,"s":"B"},{"t":673,"v":0.4,"s":"B"},{"t":676,"v":0.3,"s":"B"},{"t":679,"v":0.2,"s":"B"},{"t":682,"v":0.1,"s":"B"},{"t":685,"v":0.2,"s":"B"},{"t":688,"v":0.5,"s":"B"},{"t":691,"v":0.4,"s":"B"},{"t":694,"v":0.6,"s":"B"},{"t":697,"v":1.3,"s":"B"},{"t":700,"v":0.4,"s":"B"},{"t":703,"v":0.3,"s":"B"},{"t":706,"v":1.0,"s":"B"},{"t":709,"v":1.4,"s":"B"},{"t":712,"v":1.6,"s":"B"},{"t":715,"v":0.9,"s":"B"},{"t":718,"v":0.4,"s":"B"},{"t":721,"v":0.3,"s":"B"},{"t":724,"v":0.5,"s":"B"},{"t":727,"v":0.6,"s":"B"},{"t":730,"v":1.0,"s":"B"},{"t":733,"v":0.9,"s":"B"},{"t":736,"v":0.7,"s":"B"},{"t":739,"v":0.8,"s":"B"},{"t":742,"v":0.6,"s":"B"},{"t":745,"v":0.5,"s":"B"},{"t":748,"v":0.7,"s":"B"},{"t":751,"v":0.4,"s":"B"},{"t":754,"v":0.6,"s":"B"},{"t":757,"v":0.8,"s":"B"},{"t":760,"v":1.4,"s":"B"},{"t":763,"v":0.9,"s":"B"},{"t":766,"v":0.8,"s":"B"},{"t":769,"v":0.5,"s":"B"},{"t":772,"v":0.2,"s":"B"},{"t":775,"v":0.1,"s":"B"},{"t":778,"v":0.2,"s":"B"},{"t":781,"v":0.2,"s":"B"},{"t":784,"v":0.3,"s":"B"},{"t":787,"v":0.5,"s":"B"},{"t":790,"v":0.7,"s":"B"},{"t":793,"v":0.8,"s":"B"},{"t":796,"v":0.5,"s":"B"},{"t":799,"v":0.6,"s":"B"},{"t":802,"v":0.7,"s":"B"},{"t":805,"v":0.7,"s":"B"},{"t":808,"v":0.5,"s":"B"},{"t":811,"v":0.4,"s":"B"},{"t":814,"v":0.3,"s":"B"},{"t":817,"v":0.2,"s":"B"},{"t":820,"v":0.4,"s":"B"},{"t":823,"v":0.3,"s":"B"},{"t":825,"v":0.1,"s":"B"}
]
},
"hconcat":[
{
"width":476,"height":376,
"view":{"stroke":null},
"title":{"text":"(a) KGP intensity estimates."},
"data":{"name":"est"},
"mark":{"type":"line","strokeWidth":2.5},
"encoding":{
"x":{"field":"t","type":"quantitative","scale":{"domain":[0,900],"nice":false,"zero":false},"axis":{"title":"Time","values":[0,100,200,300,400,500,600,700,800,900]}},
"y":{"field":"v","type":"quantitative","scale":{"domain":[0,180],"nice":false},"axis":{"title":"Intensity","values":[0,20,40,60,80,100,120,140,160,180]}},
"color":{"field":"s","type":"nominal","scale":{"domain":["A","B","C"],"range":["#000000","#ff0000","#00ffff"]},"legend":{"title":null,"orient":"none","legendX":284,"legendY":15,"strokeColor":"#262626","fillColor":"white","padding":4,"symbolType":"stroke","symbolSize":1000,"symbolStrokeWidth":2.5,"clipHeight":15,"labelFont":"Liberation Serif","labelFontSize":15,"labelColor":"black","labelOffset":3,"rowPadding":2.1,"labelExpr":"datum.value == 'A' ? 'True intensity' : datum.value == 'B' ? 'Positive run estimate' : 'Negative run estimate'"}},
"strokeDash":{"field":"s","type":"nominal","scale":{"domain":["A","B","C"],"range":[[1,0],[1,0],[6,4]]},"legend":{"title":null,"orient":"none","legendX":284,"legendY":15,"strokeColor":"#262626","fillColor":"white","padding":4,"symbolType":"stroke","symbolSize":1000,"symbolStrokeWidth":2.5,"clipHeight":15,"labelFont":"Liberation Serif","labelFontSize":15,"labelColor":"black","labelOffset":3,"rowPadding":2.1,"labelExpr":"datum.value == 'A' ? 'True intensity' : datum.value == 'B' ? 'Positive run estimate' : 'Negative run estimate'"}}
}
},
{
"width":474,"height":376,
"view":{"stroke":"#6e6e6e"},
"title":{"text":"(b) KGP scores."},
"layer":[
{
"data":{"name":"scores"},
"mark":{"type":"point","filled":false,"strokeWidth":2.6,"opacity":1,"size":66},
"encoding":{
"x":{"field":"t","type":"quantitative","scale":{"domain":[0,900],"nice":false,"zero":false},"axis":{"title":"Time","values":[0,100,200,300,400,500,600,700,800,900]}},
"y":{"field":"v","type":"quantitative","scale":{"domain":[0,25],"nice":false},"axis":{"title":"Score","values":[0,5,10,15,20,25]}},
"color":{"field":"s","type":"nominal","scale":{"domain":["A","B","C"],"range":["#ff0000","#00ffff","#000000"]},"legend":{"title":null,"orient":"none","legendX":288,"legendY":15,"strokeColor":"#262626","fillColor":"white","padding":5,"symbolSize":55,"symbolStrokeWidth":2.6,"symbolOffset":11,"clipHeight":15,"labelFont":"Liberation Serif","labelFontSize":15.4,"labelColor":"black","labelOffset":11,"rowPadding":2.1,"labelExpr":"datum.value == 'A' ? 'Positive run scores' : datum.value == 'B' ? 'Negative run scores' : 'Intensity'"}},
"shape":{"field":"s","type":"nominal","scale":{"domain":["A","B","C"],"range":["M-1,-1L1,1M-1,1L1,-1","circle","M-4,0L4,0"]},"legend":{"title":null,"orient":"none","legendX":288,"legendY":15,"strokeColor":"#262626","fillColor":"white","padding":5,"symbolSize":55,"symbolStrokeWidth":2.6,"symbolOffset":11,"clipHeight":15,"labelFont":"Liberation Serif","labelFontSize":15.4,"labelColor":"black","labelOffset":11,"rowPadding":2.1,"labelExpr":"datum.value == 'A' ? 'Positive run scores' : datum.value == 'B' ? 'Negative run scores' : 'Intensity'"}}
}
},
{
"data":{"name":"est"},
"transform":[{"filter":"datum.s == 'A'"}],
"mark":{"type":"line","color":"black","strokeWidth":3},
"encoding":{
"x":{"field":"t","type":"quantitative","scale":{"domain":[0,900],"nice":false,"zero":false},"axis":{"orient":"top","labels":false,"title":null,"values":[0,100,200,300,400,500,600,700,800,900]}},
"y":{"field":"v","type":"quantitative","scale":{"domain":[0,180],"nice":false},"axis":{"orient":"right","title":"Intensity","titleAngle":270,"titleBaseline":"top","titlePadding":11,"values":[0,20,40,60,80,100,120,140,160,180]}}
}
}
],
"resolve":{"scale":{"y":"independent"},"axis":{"x":"independent"}}
}
]
}
